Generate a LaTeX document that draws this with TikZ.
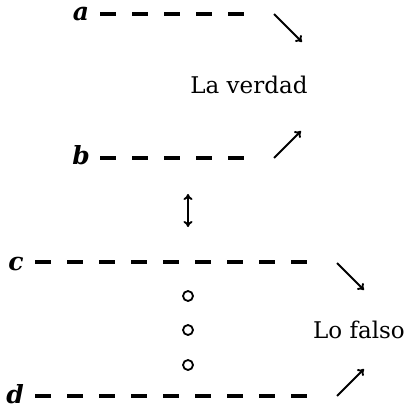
\documentclass[tikz,border=0pt]{standalone}
\usepackage{fontspec}
\setmainfont{DejaVu Serif}
\usetikzlibrary{arrows.meta}
\tikzset{
  lbl/.style={inner sep=0pt,font=\fontsize{25pt}{30pt}\selectfont\bfseries\itshape},
  txt/.style={inner sep=0pt,anchor=base,font=\fontsize{23pt}{28pt}\selectfont},
  dashline/.style={line width=3.2pt,dash pattern=on 16pt off 16pt},
  arr/.style={line width=1.9pt,-{To[length=6pt,width=9pt]}},
  dbl/.style={line width=1.9pt,{To[length=6pt,width=9pt]}-{To[length=6pt,width=9pt]}},
  ring/.style={circle,draw,line width=1.8pt,minimum size=10pt,inner sep=0pt}}
\begin{document}
\begin{tikzpicture}[x=1pt,y=-1pt]
\useasboundingbox (0,0) rectangle (408,411);
\node[lbl,anchor=base] (a) at (81,21) {a};
\node[lbl,anchor=base] (b) at (81,165) {b};
\node[lbl,anchor=base] (c) at (16,270) {c};
\node[lbl,anchor=base] (d) at (15,403) {d};
\node[txt] (verdad) at (249,94) {La verdad};
\node[txt] (falso) at (359,338) {Lo falso};
\coordinate (a1) at (100,14); \coordinate (a2) at (244,14);
\coordinate (b1) at (100,158); \coordinate (b2) at (244,158);
\coordinate (c1) at (35,262); \coordinate (c2) at (307,262);
\coordinate (d1) at (35,396); \coordinate (d2) at (307,396);
\draw[dashline] (a1) -- (a2);
\draw[dashline] (b1) -- (b2);
\draw[dashline] (c1) -- (c2);
\draw[dashline] (d1) -- (d2);
\coordinate (pa1) at (274,14); \coordinate (pa2) at (302,42);
\coordinate (pb1) at (274,158); \coordinate (pb2) at (301,131);
\coordinate (pc1) at (337,263); \coordinate (pc2) at (364,290);
\coordinate (pd1) at (337,396); \coordinate (pd2) at (364,369);
\draw[arr] (pa1) -- (pa2);
\draw[arr] (pb1) -- (pb2);
\draw[arr] (pc1) -- (pc2);
\draw[arr] (pd1) -- (pd2);
\coordinate (u1) at (188,194); \coordinate (u2) at (188,227);
\draw[dbl] (u1) -- (u2);
\node[ring] (o1) at (188,296) {};
\node[ring] (o2) at (188,330) {};
\node[ring] (o3) at (188,365) {};
\end{tikzpicture}
\end{document}
